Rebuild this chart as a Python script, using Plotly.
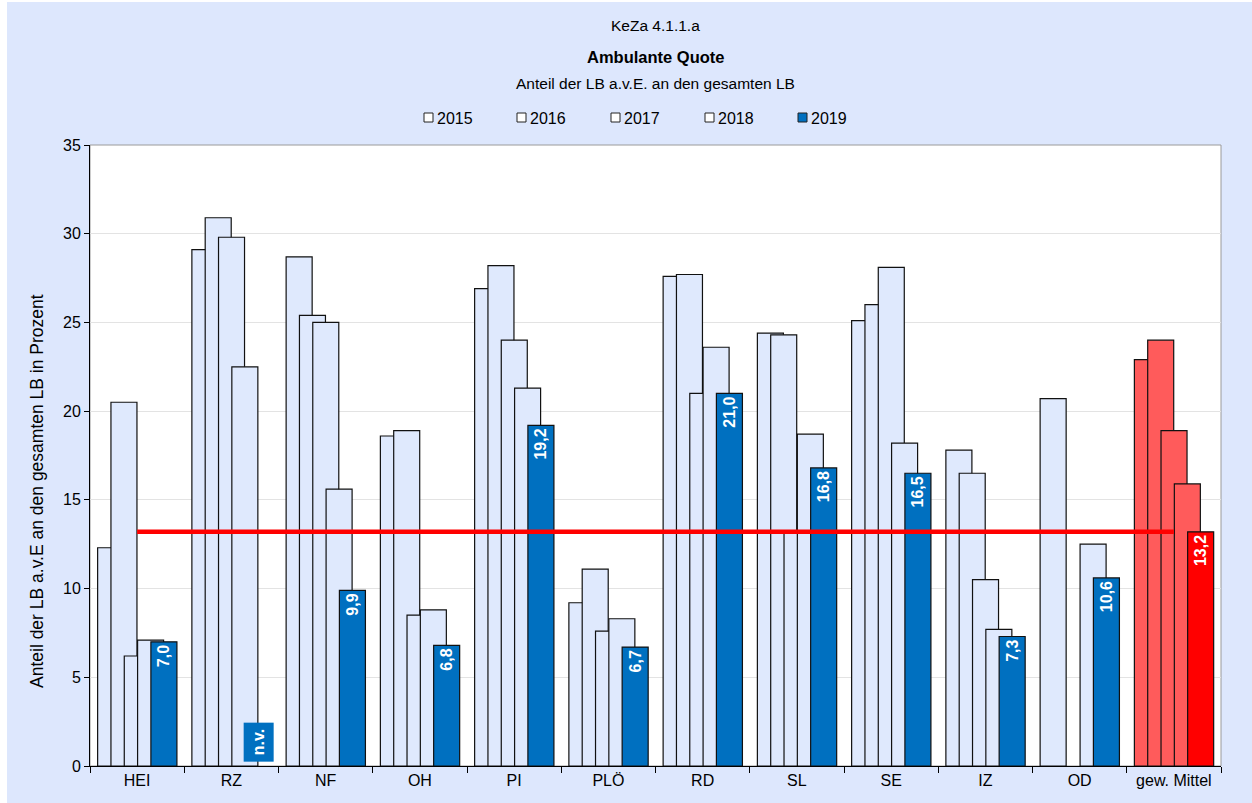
import plotly.graph_objects as go

# Kreise / Regionen und Jahreswerte (Anteil in Prozent)
categories = ["HEI", "RZ", "NF", "OH", "PI", "PLÖ", "RD", "SL", "SE", "IZ", "OD", "gew. Mittel"]
years = ["2015", "2016", "2017", "2018", "2019"]
v2015 = [12.3, 29.1, 28.7, 18.6, 26.9, 9.2, 27.6, 24.4, 25.1, 17.8, 20.7, 22.9]
v2016 = [20.5, 30.9, 25.4, 18.9, 28.2, 11.1, 27.7, 24.3, 26.0, 16.5, None, 24.0]
v2017 = [6.2, 29.8, 25.0, 8.5, 24.0, 7.6, 21.0, 13.2, 28.1, 10.5, None, 18.9]
v2018 = [7.1, 22.5, 15.6, 8.8, 21.3, 8.3, 23.6, 18.7, 18.2, 7.7, 12.5, 15.9]
v2019 = [7.0, None, 9.9, 6.8, 19.2, 6.7, 21.0, 16.8, 16.5, 7.3, 10.6, 13.2]
series = [v2015, v2016, v2017, v2018, v2019]
missing_label = "n.v."

FONT = "Arial, Liberation Sans, sans-serif"
BG = "#DDE7FD"
LIGHT = "#DFE9FD"
BLUE = "#0070C0"
RED_LIGHT = "#FF5B5B"
RED = "#FF0000"

# overlapping bars: each bar is 0.276 category wide, shifted by half a bar
BAR_W = 0.276
STEP = 0.1413
START = -0.419

fig = go.Figure()
n = len(categories)
for i, (yr, vals) in enumerate(zip(years, series)):
    last = i == len(years) - 1
    base = BLUE if last else LIGHT
    avg = RED if last else RED_LIGHT
    colors = [base] * (n - 1) + [avg]
    kw = {}
    if last:
        kw = dict(
            texttemplate="%{y:.1f}",
            textposition="inside",
            insidetextanchor="end",
            textangle=-90,
            textfont=dict(family=FONT, size=16, color="white", weight="bold"),
            constraintext="none",
        )
    fig.add_trace(go.Bar(
        x=categories, y=vals, name=yr,
        width=BAR_W, offset=START + i * STEP,
        marker=dict(color=colors, line=dict(color="#111111", width=1.2)),
        cliponaxis=False, showlegend=False,
        **kw,
    ))

# weighted mean reference line (value of the last 2019 bar)
mean_2019 = v2019[-1]
fig.add_trace(go.Scatter(
    x=[categories[0], categories[-1]], y=[mean_2019, mean_2019],
    mode="lines", line=dict(color=RED, width=4.5), showlegend=False,
    hoverinfo="skip",
))

# "n.v." marker for missing 2019 values
for idx, v in enumerate(v2019):
    if v is None:
        fig.add_annotation(
            x=idx + START + 4 * STEP + BAR_W / 2, y=0, xref="x", yref="y",
            text=f"<b>{missing_label}</b>", showarrow=False, textangle=-90,
            yanchor="bottom", yshift=4, bgcolor=BLUE, borderpad=6,
            font=dict(family=FONT, size=16, color="white"),
        )

L, R, T, B = 90, 31, 145, 37
H = 803 - T - B
W = 1252 - L - R


def py(p):
    return (803 - B - p) / H


def px(p):
    return (p - L) / W


# title block
fig.add_annotation(x=0.5, y=py(15), xref="paper", yref="paper", text="KeZa 4.1.1.a",
                   showarrow=False, font=dict(family=FONT, size=15.5, color="#000"))
fig.add_annotation(x=0.5, y=py(46), xref="paper", yref="paper", text="<b>Ambulante Quote</b>",
                   showarrow=False, font=dict(family=FONT, size=16.5, color="#000"))
fig.add_annotation(x=0.5, y=py(73), xref="paper", yref="paper",
                   text="Anteil der LB a.v.E. an den gesamten LB",
                   showarrow=False, font=dict(family=FONT, size=15.5, color="#000"))

# legend: small square followed directly by the year
legend_x = [424, 517, 611, 705, 798]
for i, yr in enumerate(years):
    fill = BLUE if i == len(years) - 1 else "white"
    x0 = legend_x[i]
    fig.add_shape(type="rect", xref="paper", yref="paper",
                  x0=px(x0), x1=px(x0 + 9), y0=py(122), y1=py(113),
                  fillcolor=fill, line=dict(color="#222", width=1))
    fig.add_annotation(x=px(x0 + 11), y=py(118), xref="paper", yref="paper",
                       text=yr, showarrow=False, xanchor="left", yanchor="middle",
                       font=dict(family=FONT, size=16, color="#000"))

# y axis title
fig.add_annotation(x=px(25), y=py(491), xref="paper", yref="paper",
                   text="Anteil der LB a.v.E an den gesamten LB in Prozent",
                   textangle=-90, showarrow=False,
                   font=dict(family=FONT, size=17.5, color="#000"))

# white strips at page edge and gray frame of the plot area
fig.add_shape(type="rect", xref="paper", yref="paper",
              x0=px(0), x1=px(7), y0=py(803), y1=py(0),
              fillcolor="white", line=dict(width=0), layer="below")
fig.add_shape(type="rect", xref="paper", yref="paper",
              x0=px(0), x1=px(1252), y0=py(2), y1=py(0),
              fillcolor="white", line=dict(width=0), layer="below")
fig.add_shape(type="rect", xref="paper", yref="paper", x0=0, x1=1, y0=0, y1=1,
              line=dict(color="#9A9A9A", width=1), layer="below")

fig.update_layout(
    width=1252, height=803,
    margin=dict(l=L, r=R, t=T, b=B),
    paper_bgcolor=BG, plot_bgcolor="white",
    barmode="overlay",
    separators=",.",
    font=dict(family=FONT, size=16, color="#000"),
    showlegend=False,
    xaxis=dict(
        type="category", range=[-0.5, n - 0.5],
        showline=True, linecolor="#000", linewidth=1,
        ticks="outside", tickson="boundaries", ticklen=6, tickcolor="#000",
        tickfont=dict(family=FONT, size=16), showgrid=False,
    ),
    yaxis=dict(
        range=[0, 35], dtick=5, tick0=0,
        showline=True, linecolor="#000", linewidth=1,
        ticks="outside", ticklen=5, tickcolor="#000",
        gridcolor="#E3E3E3", gridwidth=1, zeroline=False,
        tickfont=dict(family=FONT, size=16),
    ),
)

fig.write_html("out.html")
